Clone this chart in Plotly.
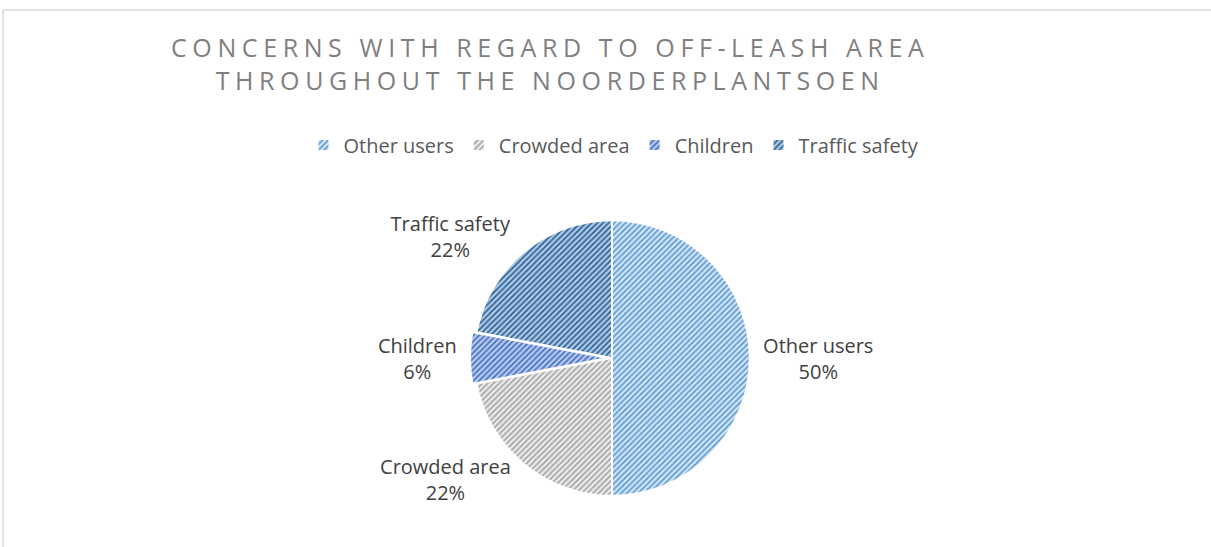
import plotly.graph_objects as go

# Data
labels = ['Other users', 'Crowded area', 'Children', 'Traffic safety']
shares = [50, 22, 6, 22]
pulls = [0, 0, 0.03, 0]

# Excel-like patterned fills (stripe colour on light background)
stripe_colors = ['#5b9bd5', '#a5a5a5', '#4472c4', '#2b6499']
back_colors = ['#d6e6f6', '#ededed', '#bccbed', '#b3cbe3']

title_lines = ['CONCERNS WITH REGARD TO OFF-LEASH AREA', 'THROUGHOUT THE NOORDERPLANTSOEN']

W, H = 1211, 547
cx, cy, r = 612, 358, 142  # pie centre/radius in pixels (r includes room for pull)
FONT = 'Open Sans'

fig = go.Figure(go.Pie(
    labels=labels,
    values=shares,
    sort=False,
    direction='clockwise',
    rotation=0,
    pull=pulls,
    texttemplate='%{label}<br>%{percent:.0%}',
    textposition='outside',
    outsidetextfont=dict(family=FONT, size=20, color='#404040'),
    marker=dict(
        colors=stripe_colors,
        line=dict(color='white', width=2),
        pattern=dict(shape='/', fgcolor=stripe_colors, bgcolor=back_colors,
                     size=4, solidity=0.45, fillmode='replace'),
    ),
    domain=dict(x=[(cx - r) / W, (cx + r) / W], y=[1 - (cy + r) / H, 1 - (cy - r) / H]),
    automargin=False,
    hoverinfo='label+percent',
))

title_html = '<br>'.join(
    f'<span style="letter-spacing:5.6px">{line}</span>' for line in title_lines
)

fig.update_layout(
    width=W, height=H,
    margin=dict(l=0, r=0, t=0, b=0),
    paper_bgcolor='white',
    plot_bgcolor='white',
    font=dict(family=FONT, color='#595959'),
    showlegend=True,
    legend=dict(
        orientation='h',
        x=614 / W, xanchor='center',
        y=1 - 145 / H, yanchor='middle',
        font=dict(family=FONT, size=20, color='#595959'),
        itemwidth=30,
        traceorder='normal',
    ),
    annotations=[dict(
        text=title_html,
        x=550 / W, y=1 - 64 / H, xref='paper', yref='paper',
        xanchor='center', yanchor='middle',
        showarrow=False,
        font=dict(family=FONT, size=25, color='#7f7f7f'),
        align='center',
    )],
    shapes=[
        # chart area border (top and left edges visible)
        dict(type='line', xref='paper', yref='paper', x0=3 / W, x1=1.0, y0=1 - 10 / H, y1=1 - 10 / H,
             line=dict(color='#d9d9d9', width=1.5)),
        dict(type='line', xref='paper', yref='paper', x0=3 / W, x1=3 / W, y0=0, y1=1 - 10 / H,
             line=dict(color='#d9d9d9', width=1.5)),
    ],
)

fig.write_html('out.html', config={'displayModeBar': False},
               post_script="document.body.style.margin='0px';")
